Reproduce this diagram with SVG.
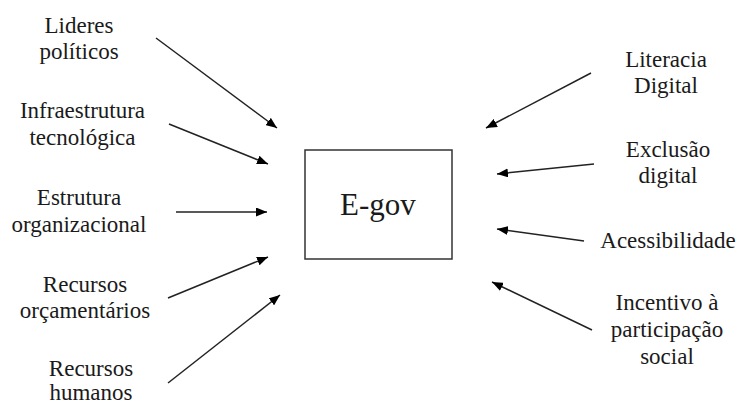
<svg xmlns="http://www.w3.org/2000/svg" width="740" height="405" viewBox="0 0 740 405">
<defs>
<marker id="ah" viewBox="0 0 11 9" refX="11" refY="4.5" markerWidth="11" markerHeight="9" markerUnits="userSpaceOnUse" orient="auto">
<path d="M0,0 L11,4.5 L0,9 Z" fill="#000"/>
</marker>
<style>
.lbl{fill:#1a1a1a;text-anchor:middle;font-family:'Liberation Serif','Times New Roman',Tinos,serif;font-size:23px}
.big{font-size:31px}
.c{stroke:#222;stroke-width:1.5;fill:none;marker-end:url(#ah)}
</style>
</defs>
<rect width="740" height="405" fill="#fff"/>
<g id="egov">
<rect x="305" y="150" width="147" height="109" fill="#fff" stroke="#333" stroke-width="1.5"/>
<text class="lbl big" x="378" y="215">E-gov</text>
</g>
<g id="lideres"><text class="lbl" x="79" y="33">Lideres</text><text class="lbl" x="79" y="59">políticos</text></g>
<g id="infra"><text class="lbl" x="82.5" y="118">Infraestrutura</text><text class="lbl" x="82.5" y="145">tecnológica</text></g>
<g id="estrutura"><text class="lbl" x="79" y="205">Estrutura</text><text class="lbl" x="79" y="232">organizacional</text></g>
<g id="orcamentarios"><text class="lbl" x="85" y="292">Recursos</text><text class="lbl" x="85" y="318">orçamentários</text></g>
<g id="humanos"><text class="lbl" x="91" y="376">Recursos</text><text class="lbl" x="91" y="400">humanos</text></g>
<g id="literacia"><text class="lbl" x="666" y="67">Literacia</text><text class="lbl" x="666" y="93">Digital</text></g>
<g id="exclusao"><text class="lbl" x="668" y="157">Exclusão</text><text class="lbl" x="668" y="183">digital</text></g>
<g id="acessibilidade"><text class="lbl" x="668" y="248">Acessibilidade</text></g>
<g id="incentivo"><text class="lbl" x="667" y="310">Incentivo à</text><text class="lbl" x="667" y="337">participação</text><text class="lbl" x="667" y="364">social</text></g>
<g id="connectors">
<line class="c" x1="156" y1="38" x2="277" y2="128"/>
<line class="c" x1="169" y1="124" x2="268" y2="164"/>
<line class="c" x1="176" y1="212" x2="267" y2="212"/>
<line class="c" x1="168" y1="298" x2="268" y2="257"/>
<line class="c" x1="168" y1="383" x2="280" y2="295"/>
<line class="c" x1="591" y1="73" x2="486" y2="128"/>
<line class="c" x1="594" y1="164" x2="497" y2="174"/>
<line class="c" x1="584" y1="241" x2="497" y2="229"/>
<line class="c" x1="592" y1="330" x2="492" y2="282"/>
</g>
</svg>
